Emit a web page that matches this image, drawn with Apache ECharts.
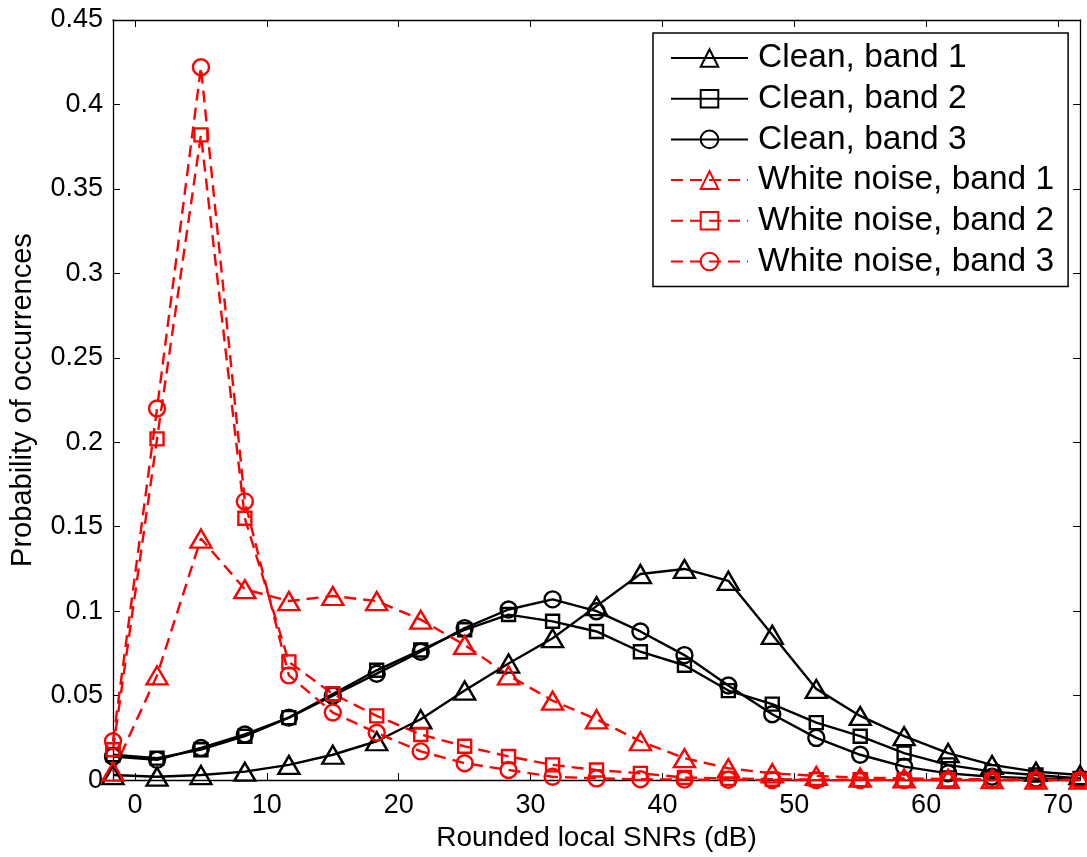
<!DOCTYPE html>
<html>
<head>
<meta charset="utf-8">
<script src="https://cdn.jsdelivr.net/npm/echarts@6/dist/echarts.min.js"></script>
<style>
html,body{margin:0;padding:0;background:#fff;}
#chart{width:1087px;height:857px;}
</style>
</head>
<body>
<div id="chart"></div>
<script>
// x positions (dB) of the histogram bins
const snr = [-1.67, 1.67, 5, 8.33, 11.67, 15, 18.33, 21.67, 25, 28.33, 31.67, 35, 38.33, 41.67, 45, 48.33, 51.67, 55, 58.33, 61.67, 65, 68.33, 71.67];
const xTicks = [0, 10, 20, 30, 40, 50, 60, 70];

const seriesNames = ['Clean, band 1', 'Clean, band 2', 'Clean, band 3',
                     'White noise, band 1', 'White noise, band 2', 'White noise, band 3'];

const clean1 = [0.003, 0.002, 0.003, 0.005, 0.009, 0.015, 0.023, 0.036, 0.053, 0.069, 0.084, 0.103, 0.122, 0.125, 0.118, 0.086, 0.054, 0.038, 0.026, 0.016, 0.009, 0.005, 0.003];
const clean2 = [0.015, 0.013, 0.018, 0.026, 0.037, 0.051, 0.065, 0.077, 0.089, 0.098, 0.094, 0.088, 0.076, 0.068, 0.053, 0.045, 0.034, 0.026, 0.016, 0.009, 0.005, 0.003, 0.001];
const clean3 = [0.014, 0.012, 0.019, 0.027, 0.037, 0.050, 0.063, 0.076, 0.090, 0.101, 0.107, 0.100, 0.088, 0.074, 0.056, 0.039, 0.025, 0.015, 0.008, 0.004, 0.002, 0.001, 0.0005];
const white1 = [0.005, 0.062, 0.143, 0.113, 0.106, 0.109, 0.106, 0.095, 0.080, 0.062, 0.047, 0.036, 0.023, 0.013, 0.007, 0.004, 0.0025, 0.0015, 0.001, 0.0007, 0.0005, 0.0003, 0.0002];
const white2 = [0.018, 0.202, 0.382, 0.155, 0.070, 0.051, 0.038, 0.027, 0.020, 0.014, 0.009, 0.006, 0.004, 0.0015, 0.001, 0.0005, 0.0003, 0.0002, 0.0001, 0.0001, 0, 0, 0];
const white3 = [0.023, 0.220, 0.422, 0.165, 0.062, 0.040, 0.028, 0.017, 0.010, 0.006, 0.002, 0.001, 0.0005, 0.0003, 0.0002, 0.0001, 0, 0, 0, 0, 0, 0, 0];

const FONT = "'Liberation Sans', Arial, Helvetica, sans-serif";

function pairs(ys) { return snr.map((x, i) => [x, ys[i]]); }

function mk(name, ys, color, symbol, size, dashed) {
  return {
    name: name,
    type: 'line',
    data: pairs(ys),
    symbol: symbol,
    symbolSize: size,
    showAllSymbol: true,
    lineStyle: { color: color, width: 2.4, type: dashed ? [12, 7] : 'solid' },
    itemStyle: { color: 'rgba(0,0,0,0)', borderColor: color, borderWidth: 2.4 },
    emphasis: { disabled: true },
    clip: false
  };
}

const chart = echarts.init(document.getElementById('chart'));
const axisCommon = {
  axisLine: { show: true, onZero: false, lineStyle: { color: '#000', width: 1.3 } },
  splitLine: { show: false }
};

chart.setOption({
  animation: false,
  backgroundColor: '#fff',
  textStyle: { fontFamily: FONT },
  grid: { left: 113, right: 7, top: 20, bottom: 74, containLabel: false },
  legend: {
    show: true,
    orient: 'vertical',
    left: 653,
    top: 33,
    data: seriesNames,
    itemWidth: 77,
    itemHeight: 22,
    itemGap: 6.7,
    padding: [8, 14, 8, 17],
    backgroundColor: '#fff',
    borderColor: '#000',
    borderWidth: 1.5,
    selectedMode: false,
    textStyle: { fontFamily: FONT, fontSize: 33.5, color: '#000', lineHeight: 34, padding: [0, 0, 0, 5] }
  },
  xAxis: [
    Object.assign({}, axisCommon, {
      type: 'value', min: -1.67, max: 71.67, position: 'bottom',
      name: 'Rounded local SNRs (dB)', nameLocation: 'middle', nameGap: 43,
      nameTextStyle: { fontFamily: FONT, fontSize: 28, color: '#000' },
      axisTick: { show: true, inside: true, length: 7, customValues: xTicks, lineStyle: { color: '#000' } },
      axisLabel: { show: true, customValues: xTicks, margin: 12, fontFamily: FONT, fontSize: 27, color: '#000' }
    }),
    Object.assign({}, axisCommon, {
      type: 'value', min: -1.67, max: 71.67, position: 'top',
      axisTick: { show: true, inside: true, length: 7, customValues: xTicks, lineStyle: { color: '#000' } },
      axisLabel: { show: false }
    })
  ],
  yAxis: [
    Object.assign({}, axisCommon, {
      type: 'value', min: 0, max: 0.45, interval: 0.05, position: 'left',
      name: 'Probability of occurrences', nameLocation: 'middle', nameGap: 76,
      nameTextStyle: { fontFamily: FONT, fontSize: 29, color: '#000' },
      axisTick: { show: true, inside: true, length: 7, lineStyle: { color: '#000' } },
      axisLabel: { show: true, margin: 10, fontFamily: FONT, fontSize: 27, color: '#000',
        formatter: v => String(Math.round(v * 100) / 100) }
    }),
    Object.assign({}, axisCommon, {
      type: 'value', min: 0, max: 0.45, interval: 0.05, position: 'right',
      axisTick: { show: true, inside: true, length: 7, lineStyle: { color: '#000' } },
      axisLabel: { show: false }
    })
  ],
  series: [
    mk(seriesNames[0], clean1, '#000', 'triangle', [21, 18], false),
    mk(seriesNames[1], clean2, '#000', 'rect', 13, false),
    mk(seriesNames[2], clean3, '#000', 'circle', 16, false),
    mk(seriesNames[3], white1, '#ff0000', 'triangle', [21, 18], true),
    mk(seriesNames[4], white2, '#ff0000', 'rect', 13, true),
    mk(seriesNames[5], white3, '#ff0000', 'circle', 16, true)
  ]
});
</script>
</body>
</html>
